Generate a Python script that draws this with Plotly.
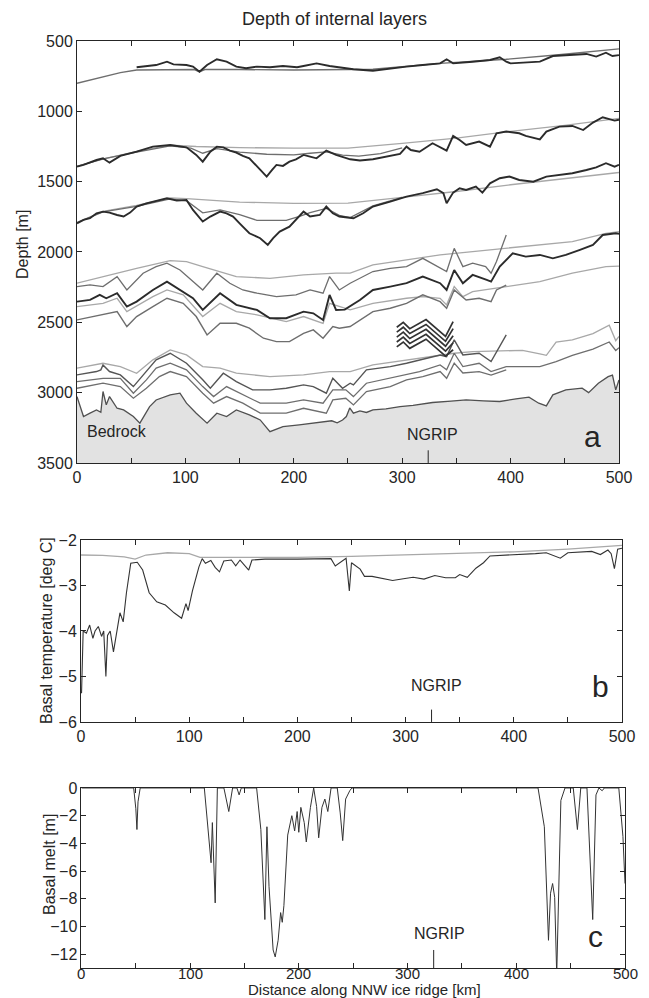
import plotly.graph_objects as go

# ---------------- data ----------------
X_TICKS = [0, 50, 100, 150, 200, 250, 300, 350, 400, 450, 500]
X_TICKTEXT = ["0", "", "100", "", "200", "", "300", "", "400", "", "500"]
DEPTH_TICKS = [500, 1000, 1500, 2000, 2500, 3000, 3500]
TEMP_TICKS = [-6, -5, -4, -3, -2]
MELT_TICKS = [-12, -10, -8, -6, -4, -2, 0]
NGRIP_KM = 324

# layer group 1
L1_OBS_KM = [55, 64, 73, 83, 89, 101, 107, 113, 120, 129, 138, 147, 156, 166, 178, 190, 203, 209, 221, 233,
             242, 255, 273, 289, 304, 319, 335, 341, 347, 365, 381, 390, 396, 400, 411, 427, 439, 457, 470, 479,
             488, 494, 500]
L1_OBS_D = [687, 678, 671, 647, 666, 671, 682, 718, 671, 630, 647, 682, 694, 682, 687, 678, 687, 678, 659, 678,
            687, 701, 711, 694, 682, 671, 659, 630, 659, 647, 635, 616, 647, 659, 654, 647, 607, 599, 592, 611,
            583, 607, 600]
L1_MOD_KM = [0, 24, 40, 55, 80, 108, 113, 118, 150, 200, 250, 273, 335, 396, 442, 494, 500]
L1_MOD_D = [800, 753, 725, 706, 703, 703, 718, 703, 703, 706, 703, 701, 659, 630, 599, 559, 556]

# layer group 2
L2_OBS_KM = [0, 6, 18, 24, 30, 40, 55, 70, 86, 101, 110, 116, 123, 129, 135, 141, 147, 153, 159, 166,
             172, 175, 180, 184, 190, 196, 202, 209, 215, 221, 230, 239, 252, 261, 273, 289, 298, 304, 308, 316,
             328, 341, 347, 353, 359, 371, 381, 387, 396, 408, 414, 427, 433, 445, 457, 467, 476, 485, 491, 496, 500]
L2_OBS_D = [1393, 1381, 1346, 1334, 1365, 1317, 1287, 1251, 1239, 1256, 1310, 1358, 1287, 1251, 1256, 1279, 1293, 1317, 1334, 1393,
            1440, 1464, 1417, 1381, 1388, 1358, 1341, 1310, 1322, 1334, 1279, 1310, 1341, 1350, 1341, 1317, 1303, 1251, 1275, 1287,
            1227, 1279, 1175, 1204, 1239, 1215, 1251, 1156, 1144, 1156, 1175, 1199, 1144, 1109, 1104, 1133, 1080, 1042, 1057, 1066, 1060]
L2_MODA_KM = [0, 24, 55, 86, 110, 150, 200, 250, 300, 350, 400, 450, 500]
L2_MODA_D = [1390, 1340, 1285, 1240, 1250, 1258, 1262, 1262, 1228, 1190, 1142, 1100, 1050]
L2_MODB_KM = [0, 24, 55, 86, 105, 116, 129, 150, 175, 200, 215, 230, 245, 260, 280, 300]
L2_MODB_D = [1392, 1338, 1290, 1245, 1262, 1298, 1265, 1290, 1305, 1310, 1298, 1288, 1312, 1318, 1300, 1260]

# layer group 3
L3_OBS_KM = [0, 6, 12, 18, 24, 30, 37, 43, 49, 55, 64, 73, 83, 92, 101, 107, 116, 123, 132, 138,
             144, 150, 159, 169, 176, 181, 187, 196, 202, 209, 215, 224, 230, 236, 242, 252, 255, 264, 273, 289,
             304, 319, 332, 338, 341, 347, 353, 359, 368, 374, 381, 390, 399, 408, 421, 433, 445, 457, 470, 479,
             488, 496, 500]
L3_OBS_D = [1796, 1772, 1760, 1725, 1713, 1720, 1737, 1748, 1720, 1677, 1654, 1635, 1618, 1635, 1630, 1701, 1784, 1748, 1713, 1725,
            1748, 1796, 1867, 1902, 1950, 1902, 1855, 1820, 1772, 1713, 1748, 1737, 1677, 1725, 1748, 1760, 1760, 1725, 1677, 1642,
            1606, 1582, 1554, 1582, 1654, 1578, 1547, 1559, 1535, 1578, 1512, 1476, 1464, 1488, 1500, 1464, 1452, 1440, 1417, 1398,
            1369, 1393, 1380]
L3_MODA_KM = [0, 24, 55, 86, 101, 150, 200, 250, 300, 350, 400, 450, 500]
L3_MODA_D = [1790, 1712, 1668, 1615, 1620, 1645, 1655, 1652, 1612, 1570, 1522, 1480, 1435]
L3_MODB_KM = [0, 24, 55, 86, 101, 116, 132, 150, 166, 193, 206, 215, 230, 242, 252, 273, 300]
L3_MODB_D = [1792, 1715, 1675, 1622, 1635, 1722, 1700, 1735, 1775, 1775, 1745, 1720, 1690, 1740, 1755, 1672, 1612]

# layer group 4
L4A_KM = [0, 24, 55, 86, 101, 116, 132, 147, 178, 209, 239, 252, 273, 304, 335, 365, 396, 427, 457, 488, 500]
L4A_D = [2222, 2175, 2116, 2062, 2068, 2104, 2139, 2175, 2187, 2163, 2151, 2151, 2092, 2057, 2021, 1997, 1974, 1950, 1926, 1867, 1855]
L4B_KM = [0, 12, 24, 37, 46, 61, 73, 83, 95, 116, 129, 141, 153, 166, 184, 202, 215, 227, 233, 242,
          252, 273, 289, 304, 319, 335, 341, 348, 356, 365, 377, 382, 387, 396]
L4B_D = [2246, 2234, 2246, 2175, 2270, 2151, 2104, 2080, 2128, 2270, 2151, 2222, 2270, 2293, 2317, 2305, 2270, 2293, 2175, 2270,
         2222, 2139, 2116, 2104, 2045, 2116, 2139, 1974, 2104, 2080, 2104, 2151, 2068, 1879]
D4_KM = [0, 12, 21, 27, 37, 46, 55, 70, 83, 95, 107, 116, 132, 147, 166, 178, 193, 209, 218, 227,
         233, 239, 247, 261, 273, 289, 304, 319, 335, 341, 348, 356, 365, 378, 382, 390, 396, 402, 414, 427,
         439, 451, 464, 476, 485, 497, 500]
D4_D = [2353, 2341, 2305, 2329, 2293, 2388, 2353, 2270, 2211, 2270, 2329, 2412, 2293, 2376, 2412, 2471, 2471, 2424, 2436, 2483,
        2305, 2412, 2410, 2341, 2270, 2246, 2222, 2175, 2222, 2270, 2128, 2222, 2163, 2199, 2211, 2104, 2057, 2009, 2033, 2021,
        2045, 2021, 1985, 1950, 1879, 1867, 1870]
L4C_KM = [0, 24, 37, 46, 70, 83, 98, 116, 132, 147, 166, 193, 209, 227, 233, 252, 273, 304, 319, 335,
          341, 348, 356, 365, 396, 427, 457, 488, 500]
L4C_D = [2388, 2365, 2329, 2424, 2317, 2270, 2305, 2459, 2365, 2424, 2447, 2495, 2459, 2507, 2365, 2412, 2365, 2329, 2317, 2329,
         2376, 2246, 2317, 2282, 2246, 2211, 2151, 2104, 2100]
L4D_KM = [0, 24, 37, 46, 55, 70, 83, 98, 110, 120, 132, 147, 159, 172, 184, 196, 209, 218, 227, 236,
          242, 252, 261, 273, 289, 304, 319, 335, 341, 348, 359, 371, 382, 387, 396]
L4D_D = [2483, 2447, 2424, 2530, 2459, 2388, 2329, 2365, 2459, 2590, 2507, 2507, 2542, 2613, 2637, 2637, 2578, 2554, 2613, 2530,
         2542, 2530, 2483, 2424, 2400, 2365, 2305, 2353, 2400, 2270, 2341, 2329, 2353, 2270, 2235]

# short observed layers near NGRIP
NG_KM = [295, 301, 307, 322, 340, 347]
NG1_D = [2535, 2500, 2545, 2480, 2600, 2495]
NG2_D = [2570, 2535, 2580, 2515, 2635, 2545]
NG3_D = [2605, 2570, 2615, 2550, 2670, 2595]
NG4_D = [2640, 2605, 2650, 2585, 2705, 2645]
NG5_D = [2675, 2640, 2685, 2620, 2740, 2695]

# layer group 5
L5A_KM = [0, 24, 40, 55, 70, 86, 101, 116, 132, 147, 178, 209, 233, 252, 273, 304, 335, 348, 365, 396,
          411, 427, 433, 442, 457, 476, 491, 497, 500]
L5A_D = [2826, 2791, 2815, 2862, 2767, 2696, 2732, 2815, 2826, 2862, 2886, 2874, 2850, 2850, 2803, 2767, 2732, 2720, 2708, 2700,
         2700, 2725, 2735, 2640, 2625, 2580, 2520, 2630, 2600]
D5_KM = [0, 18, 22, 24, 30, 40, 52, 64, 73, 86, 101, 116, 123, 135, 147, 162, 178, 193, 209, 218,
         230, 236, 245, 252, 255, 267, 289, 304, 316, 335, 341, 348, 356, 371, 382, 390, 396]
D5_D = [2874, 2850, 2838, 2803, 2850, 2874, 2957, 2850, 2767, 2720, 2791, 2909, 2969, 2862, 2921, 2980, 2980, 2969, 2945, 2957,
        3004, 2898, 2969, 2933, 2945, 2838, 2815, 2791, 2767, 2732, 2744, 2625, 2732, 2720, 2779, 2672, 2590]
L5C_KM = [0, 24, 40, 52, 64, 73, 86, 101, 116, 126, 138, 153, 169, 193, 209, 227, 236, 248, 255, 267,
          289, 304, 316, 335, 341, 348, 356, 371, 382, 396, 427, 442, 457, 476, 491, 497, 500]
L5C_D = [2921, 2898, 2898, 3004, 2909, 2826, 2791, 2838, 2957, 3028, 2957, 3016, 3075, 3075, 3052, 3075, 2980, 2980, 3028, 2933,
         2898, 2874, 2850, 2803, 2838, 2720, 2815, 2791, 2850, 2815, 2815, 2780, 2735, 2690, 2640, 2700, 2680]
L5D_KM = [0, 24, 40, 52, 64, 76, 86, 101, 116, 126, 138, 153, 169, 193, 209, 230, 236, 248, 255, 267,
          289, 304, 319, 335, 341, 348, 356, 371, 382, 396]
L5D_D = [2969, 2933, 2957, 3040, 2969, 2886, 2850, 2886, 3004, 3075, 3028, 3075, 3146, 3146, 3111, 3146, 3052, 3040, 3087, 2992,
         2957, 2909, 2886, 2850, 2898, 2790, 2860, 2850, 2875, 2838]

# bedrock
BED_KM = [0, 3, 6, 12, 18, 22, 24, 27, 30, 37, 43, 52, 58, 67, 73, 86, 95, 101, 110, 120,
          129, 138, 147, 159, 169, 178, 190, 205, 215, 227, 235, 240, 245, 248.5, 251.6, 255, 261, 267, 273, 285,
          298, 310, 328, 345, 359, 375, 390, 405, 417, 426, 433, 439, 451, 466, 472, 481, 490, 494, 497, 500]
BED_D = [3028, 3100, 3170, 3146, 3123, 3140, 2992, 3087, 3028, 3111, 3123, 3170, 3217, 3099, 3052, 3016, 3004, 3075, 3146, 3217,
         3146, 3170, 3123, 3158, 3194, 3277, 3241, 3229, 3220, 3205, 3200, 3215, 3195, 3170, 3109, 3146, 3130, 3141, 3122, 3115,
         3099, 3090, 3070, 3060, 3051, 3058, 3063, 3045, 3032, 3075, 3094, 3016, 2980, 2968, 3000, 2933, 2886, 2875, 2980, 2910]

# basal temperature
TM_KM = [0, 20, 40, 50, 60, 80, 100, 110, 150, 200, 250, 300, 350, 400, 450, 500]
TM_T = [-2.33, -2.34, -2.37, -2.42, -2.33, -2.28, -2.3, -2.38, -2.38, -2.38, -2.36, -2.33, -2.3, -2.26, -2.2, -2.12]
TO_KM = [0.5, 1.5, 2, 5, 8, 11, 13, 16, 19, 21, 23, 24.5, 27, 30, 33, 36, 39, 42, 46, 52,
         57, 63, 70, 78, 86, 93, 97, 99, 103, 109, 112, 115, 120, 124, 128, 132, 139, 143, 147, 155,
         158, 170, 200, 231, 235, 245, 248, 250, 258, 262, 269, 278, 288, 298, 307, 317, 327, 337, 346, 350,
         357, 365, 372, 378, 390, 400, 420, 430, 443, 450, 465, 472, 480, 487, 490, 493, 496, 500]
TO_T = [-5.37, -4.5, -4.0, -4.05, -3.87, -4.16, -4.0, -3.9, -4.12, -4.0, -5.0, -4.1, -4.0, -4.46, -4.05, -3.6, -3.8, -3.16, -2.51, -2.49,
        -2.66, -3.16, -3.36, -3.43, -3.6, -3.72, -3.4, -3.55, -3.12, -2.59, -2.41, -2.51, -2.45, -2.6, -2.7, -2.46, -2.44, -2.57, -2.44, -2.66,
        -2.44, -2.42, -2.42, -2.41, -2.57, -2.4, -3.12, -2.5, -2.64, -2.8, -2.8, -2.85, -2.89, -2.85, -2.82, -2.86, -2.78, -2.83, -2.83, -2.76,
        -2.82, -2.62, -2.5, -2.35, -2.34, -2.32, -2.3, -2.28, -2.4, -2.28, -2.27, -2.25, -2.32, -2.22, -2.3, -2.63, -2.2, -2.18]

# basal melt
MELT_KM = [0, 48, 50, 51, 52, 54, 113, 115.4, 119.2, 120.4, 121.9, 123, 125, 131, 135.5, 139, 143, 145, 147, 158,
           161.1, 165, 168.7, 170.6, 172.5, 176.3, 178.2, 180.9, 183.2, 184.7, 186.2, 189.7, 193.5, 196.1, 198.4, 199.9, 201.8, 204.9, 206.8, 210.6,
           213.6, 216.3, 218.2, 221.2, 223.9, 226.6, 229.6, 235.3, 238, 240.3, 243, 246.8, 248.7, 420, 425.8, 429.6, 431.5, 433.4, 435.3, 437.2,
           441, 444.8, 452.4, 456.2, 459.3, 465, 470.3, 473.3, 476, 479, 481, 494.3, 498.1, 500]
MELT_M = [0, 0, -1.5, -3.0, -1.0, 0, 0, -2.0, -5.4, -2.5, -5.2, -8.3, 0, 0, -1.7, 0, 0, -0.5, 0, 0,
          0, -3.0, -9.5, -2.8, -7.1, -11.7, -12.2, -11.0, -9.0, -9.7, -8.5, -3.4, -2.0, -3.1, -1.7, -3.2, -1.4, -2.5, -3.9, -1.4,
          0, -1.35, -3.6, -1.4, -0.8, -1.7, 0, 0, -1.8, -3.8, -0.8, -0.2, 0, 0, -2.8, -11.0, -7.6, -6.9, -7.9, -13.5,
          -0.9, 0, 0, -3.0, 0, 0, -9.5, -0.5, 0, -0.2, 0, 0, -3.5, -6.9]

DEPTH_RANGE = [3500, 500]
TEMP_RANGE = [-6, -2]
MELT_RANGE = [-13, 0]
KM_RANGE = [0, 500]

# ---------------- figure ----------------
FONT = "Liberation Sans, Arial, Helvetica, sans-serif"
INK = "#252525"
DARK = "#2b2b2b"
MID = "#6e6e6e"
LIGHT = "#a8a8a8"

fig = go.Figure()


def add_line(xs, ys, color, width, xa="x", ya="y"):
    fig.add_trace(go.Scatter(x=xs, y=ys, mode="lines", line=dict(color=color, width=width),
                             xaxis=xa, yaxis=ya, hoverinfo="skip", showlegend=False))


# bedrock fill
fig.add_trace(go.Scatter(x=BED_KM + [BED_KM[-1], BED_KM[0]],
                         y=BED_D + [DEPTH_RANGE[0], DEPTH_RANGE[0]],
                         mode="lines", fill="toself", fillcolor="#e2e2e2",
                         line=dict(width=0), hoverinfo="skip", showlegend=False))

# model (grey) lines first, observed (dark) on top
add_line(L1_MOD_KM, L1_MOD_D, MID, 1.4)
add_line(L2_MODA_KM, L2_MODA_D, LIGHT, 1.3)
add_line(L2_MODB_KM, L2_MODB_D, MID, 1.3)
add_line(L3_MODA_KM, L3_MODA_D, LIGHT, 1.3)
add_line(L3_MODB_KM, L3_MODB_D, MID, 1.3)
add_line(L4A_KM, L4A_D, LIGHT, 1.3)
add_line(L4B_KM, L4B_D, MID, 1.3)
add_line(L4C_KM, L4C_D, LIGHT, 1.3)
add_line(L4D_KM, L4D_D, MID, 1.4)
add_line(L5A_KM, L5A_D, LIGHT, 1.3)
add_line(L5C_KM, L5C_D, MID, 1.3)
add_line(L5D_KM, L5D_D, MID, 1.3)
add_line(D5_KM, D5_D, "#555555", 1.4)
add_line(BED_KM, BED_D, "#505050", 1.3)
add_line(L1_OBS_KM, L1_OBS_D, DARK, 1.9)
add_line(L2_OBS_KM, L2_OBS_D, DARK, 1.9)
add_line(L3_OBS_KM, L3_OBS_D, DARK, 1.9)
add_line(D4_KM, D4_D, DARK, 1.9)
for ng in (NG1_D, NG2_D, NG3_D, NG4_D, NG5_D):
    add_line(NG_KM, ng, "#333333", 1.7)

# panel b
add_line(TM_KM, TM_T, LIGHT, 1.3, "x2", "y2")
add_line(TO_KM, TO_T, "#333333", 1.1, "x2", "y2")

# panel c
add_line(MELT_KM, MELT_M, "#333333", 1.0, "x3", "y3")

axis_common = dict(showline=True, linecolor=INK, linewidth=1, mirror="ticks",
                   ticks="inside", ticklen=5, tickwidth=1, tickcolor=INK,
                   showgrid=False, zeroline=False,
                   tickfont=dict(family=FONT, size=16, color=INK))

xaxis_common = dict(axis_common, range=KM_RANGE, tickmode="array",
                    tickvals=X_TICKS, ticktext=X_TICKTEXT)

# the page body adds an 8 px offset, so the figure is 8 px smaller than the window
fig.update_layout(
    width=641, height=990,
    margin=dict(l=69, r=24, t=33, b=30),
    paper_bgcolor="white", plot_bgcolor="white",
    font=dict(family=FONT, color=INK),
    xaxis=dict(xaxis_common, domain=[0, 0.989], anchor="y"),
    yaxis=dict(axis_common, domain=[0.5448, 1.0], range=DEPTH_RANGE,
               tickmode="array", tickvals=DEPTH_TICKS, anchor="x"),
    xaxis2=dict(xaxis_common, domain=[0.0073, 0.9945], anchor="y2"),
    yaxis2=dict(axis_common, domain=[0.2654, 0.4617], range=TEMP_RANGE,
                tickmode="array", tickvals=TEMP_TICKS, anchor="x2"),
    xaxis3=dict(xaxis_common, domain=[0.0082, 1.0], anchor="y3", showticklabels=False),
    yaxis3=dict(axis_common, domain=[0.0, 0.1942], range=MELT_RANGE,
                tickmode="array", tickvals=MELT_TICKS, anchor="x3"),
)

# NGRIP tick marks
for xr, yr, h in (("x", "y", 0.03), ("x2", "y2", 0.068), ("x3", "y3", 0.1)):
    fig.add_shape(type="line", xref=xr, yref=yr + " domain", x0=NGRIP_KM, x1=NGRIP_KM,
                  y0=0, y1=h, line=dict(color=INK, width=1))

ann = []


def txt(text, x, y, xref, yref, size=16, angle=0, xanchor="center", yanchor="middle"):
    ann.append(dict(text=text, x=x, y=y, xref=xref, yref=yref, showarrow=False,
                    textangle=angle, xanchor=xanchor, yanchor=yanchor,
                    font=dict(family=FONT, size=size, color=INK)))


# bottom panel tick labels, placed tightly as in the original
for tv, tt in zip(X_TICKS, X_TICKTEXT):
    if tt:
        txt(tt, tv, -0.0057, "x3", "paper", size=15)

txt("Depth of internal layers", 0.47, 1.0235, "paper", "paper", size=18)
txt("Depth [m]", -0.0985, 0.78, "paper", "paper", angle=-90)
txt("Basal temperature [deg C]", -0.0566, 0.3646, "paper", "paper", angle=-90)
txt("Basal melt [m]", -0.0493, 0.1122, "paper", "paper", angle=-90)
txt("Distance along NNW ice ridge [km]", 0.524, -0.0232, "paper", "paper", size=15)
txt("Bedrock", 37, 3279, "x", "y")
txt("NGRIP", 328, 3300, "x", "y")
txt("a", 476, 3315, "x", "y", size=30)
txt("NGRIP", 329, -5.19, "x2", "y2")
txt("b", 480, -5.22, "x2", "y2", size=30)
txt("NGRIP", 329, -10.5, "x3", "y3")
txt("c", 473, -10.7, "x3", "y3", size=30)
fig.update_layout(annotations=ann)

fig.write_html("out.html")
